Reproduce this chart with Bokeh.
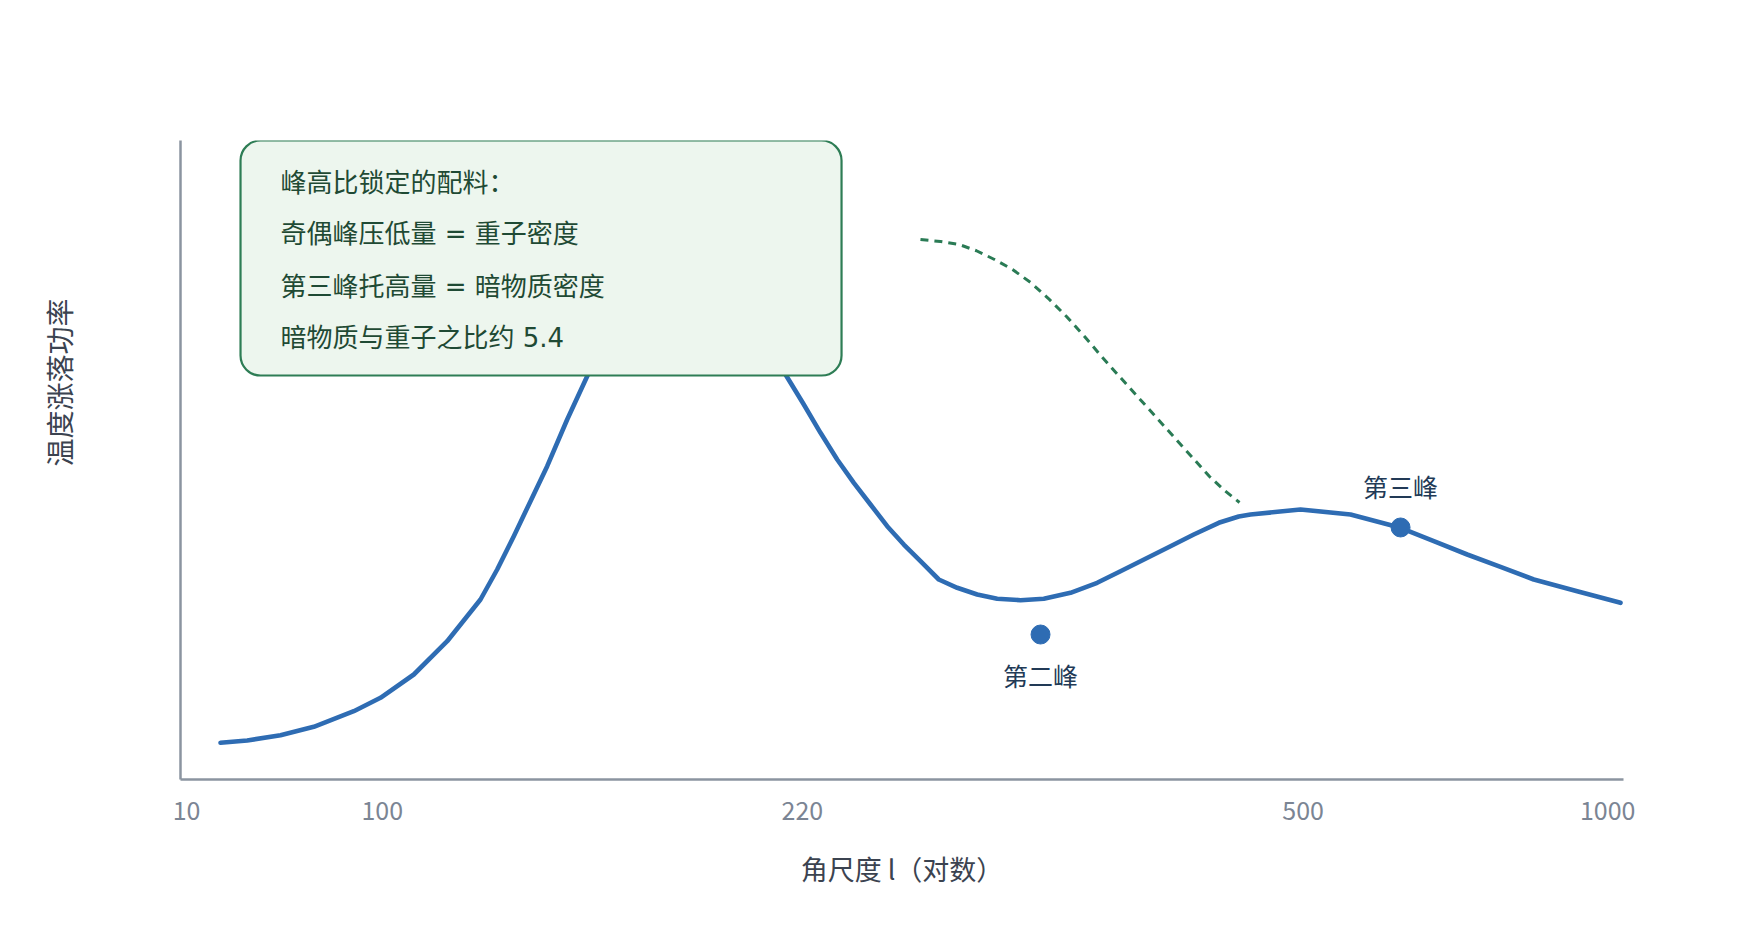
import math
from bokeh.plotting import figure
from bokeh.layouts import row
from bokeh.models import Range1d, FixedTicker, BoxAnnotation, Label, ColumnDataSource
from bokeh.core.properties import value
from bokeh.embed import file_html
from bokeh.resources import INLINE

FONT = "Noto Sans CJK SC"
MIXED = "DejaVu Sans, Noto Sans CJK SC"

# ---- data (schematic units, x 0..100 along the stylised log axis, y 0..100) ----
tick_pos = [0.42, 13.98, 43.1, 77.8, 98.9]
tick_labels = ["10", "100", "220", "500", "1000"]

spec_x = [2.772, 4.622, 6.930, 9.238, 12.010, 13.860, 16.168, 18.482, 20.790, 21.947,
          23.098, 24.255, 25.412, 26.798, 28.184, 30.492, 32.571, 35.066, 37.422, 39.501,
          41.927, 43.195, 44.352, 45.509, 46.660, 47.817, 48.974, 50.125, 51.282, 52.550,
          53.825, 55.211, 56.597, 58.212, 59.827, 61.677, 63.527, 65.142, 66.875, 68.607,
          70.222, 71.954, 73.336, 74.151, 77.616, 81.081, 84.546, 86.854, 89.168, 91.476,
          93.784, 96.791, 99.792]
spec_y = [5.743, 6.103, 6.933, 8.247, 10.689, 12.786, 16.432, 21.643, 28.169, 32.864,
          38.075, 43.553, 49.030, 56.338, 63.114, 73.552, 82.942, 88.419, 83.725, 73.552,
          63.380, 58.685, 54.257, 50.078, 46.432, 43.036, 39.640, 36.776, 34.163, 31.299,
          30.000, 28.951, 28.279, 28.060, 28.279, 29.218, 30.782, 32.598, 34.538, 36.510,
          38.341, 40.172, 41.158, 41.471, 42.254, 41.471, 39.390, 37.293, 35.211, 33.286,
          31.299, 29.468, 27.653]

dash_x = [51.28, 52.67, 53.96, 55.16, 56.41, 57.66, 58.91, 60.15, 61.40, 62.65,
          63.83, 65.07, 66.32, 67.57, 68.81, 70.06, 71.31, 72.35, 73.39]
dash_y = [84.51, 84.19, 83.72, 82.75, 81.38, 79.81, 77.78, 75.27, 72.46, 69.33,
          66.20, 63.07, 59.94, 56.81, 53.68, 50.55, 47.42, 45.23, 43.35]

peak_names = ["第二峰", "第三峰"]
peak_x = [59.60, 84.55]
peak_y = [22.69, 39.44]

note_lines = ["峰高比锁定的配料：",
              "奇偶峰压低量 = 重子密度",
              "第三峰托高量 = 暗物质密度",
              "暗物质与重子之比约 5.4"]

x_title = "角尺度 l（对数）"
y_title = "温度涨落功率"

# ---- left strip carrying the vertical axis title ----
side = figure(width=100, height=924, output_backend="svg", toolbar_location=None,
              x_range=Range1d(0, 100), y_range=Range1d(0, 924),
              x_axis_location=None, y_axis_location=None,
              min_border_left=0, min_border_right=0, min_border_top=0, min_border_bottom=0)
side.outline_line_color = None
side.grid.visible = False
side.background_fill_color = "white"
side.border_fill_color = "white"
side.text(x=[58], y=[574], text=[y_title], angle=math.pi / 2,
          text_font=value(FONT), text_font_size="28px", text_color="#3b4350",
          text_align="center", text_baseline="middle")

# ---- main chart ----
p = figure(width=1644, height=924, output_backend="svg", toolbar_location=None,
           x_range=Range1d(0, 100), y_range=Range1d(0, 100),
           min_border_left=80, min_border_right=121,
           min_border_top=140, min_border_bottom=145)
p.background_fill_color = "white"
p.border_fill_color = "white"
p.outline_line_color = None
p.grid.visible = False

AX = "#8b94a0"
xa = p.xaxis[0]
xa.ticker = FixedTicker(ticks=tick_pos)
xa.major_label_overrides = {t: l for t, l in zip(tick_pos, tick_labels)}
xa.axis_line_color = AX
xa.axis_line_width = 2.5
xa.major_tick_line_color = None
xa.minor_tick_line_color = None
xa.major_label_text_font = FONT
xa.major_label_text_font_size = "25px"
xa.major_label_text_color = "#7b8594"
xa.major_label_standoff = 15
xa.axis_label = x_title
xa.axis_label_text_font = FONT
xa.axis_label_text_font_size = "27px"
xa.axis_label_text_font_style = "normal"
xa.axis_label_text_color = "#3b4350"
xa.axis_label_standoff = 26

ya = p.yaxis[0]
ya.ticker = FixedTicker(ticks=[])
ya.axis_line_color = AX
ya.axis_line_width = 2.5
ya.major_tick_line_color = None
ya.minor_tick_line_color = None
ya.major_label_text_color = None

BLUE = "#2e6cb3"
GREEN = "#2a7b55"

p.line(spec_x, spec_y, line_color=BLUE, line_width=4.6, line_join="round", line_cap="round")
p.line(dash_x, dash_y, line_color=GREEN, line_width=3.0, line_dash="8 6")
p.scatter(peak_x, peak_y, size=19, fill_color=BLUE, line_color=BLUE)

src2 = ColumnDataSource(dict(x=[peak_x[0]], y=[peak_y[0]], t=[peak_names[0]]))
src3 = ColumnDataSource(dict(x=[peak_x[1]], y=[peak_y[1]], t=[peak_names[1]]))
common = dict(text="t", text_font=value(FONT), text_font_size="25px",
              text_color="#223a56", text_align="center", text_baseline="middle")
p.text(x="x", y="y", source=src2, y_offset=40, **common)
p.text(x="x", y="y", source=src3, y_offset=-41, **common)

box = BoxAnnotation(left=4.16, right=45.81, top=100, bottom=63.22,
                    fill_color="#edf6ee", fill_alpha=1.0,
                    line_color="#2e7d55", line_alpha=1.0, line_width=2.2,
                    border_radius=20)
p.add_layout(box)

line_y = [93.35, 85.29, 77.15, 69.03]
for t, yy in zip(note_lines, line_y):
    p.add_layout(Label(x=6.93, y=yy, text=t, text_font=MIXED, text_font_size="26px",
                       text_color="#1f4a34", text_align="left", text_baseline="middle"))

open("out.html", "w").write(file_html(row(side, p), INLINE))
